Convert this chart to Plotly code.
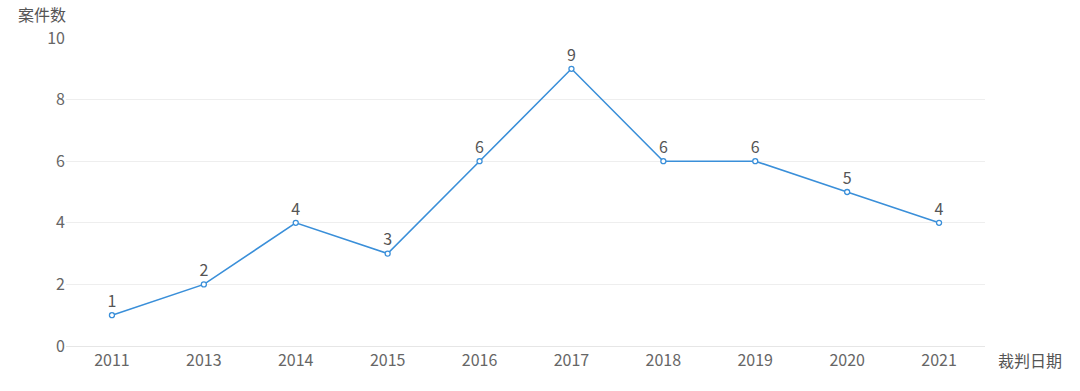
import plotly.graph_objects as go

years = ["2011", "2013", "2014", "2015", "2016", "2017", "2018", "2019", "2020", "2021"]
cases = [1, 2, 4, 3, 6, 9, 6, 6, 5, 4]
y_ticks = [0, 2, 4, 6, 8, 10]

FONT = "Noto Sans CJK SC, Microsoft YaHei, sans-serif"

fig = go.Figure()
fig.add_trace(go.Scatter(
    x=years, y=cases, mode="lines+markers+text",
    text=[str(v) for v in cases], textposition="top center",
    textfont=dict(size=16, color="#555555", family=FONT),
    line=dict(color="#3a8fd9", width=1.6),
    marker=dict(size=5, color="white", line=dict(color="#3a8fd9", width=1.3)),
    cliponaxis=False, hoverinfo="x+y",
))

fig.update_layout(
    width=1080, height=391,
    margin=dict(l=66, r=95, t=38, b=45, autoexpand=False),
    paper_bgcolor="white", plot_bgcolor="white",
    showlegend=False,
    font=dict(family=FONT, size=16, color="#666666"),
    xaxis=dict(
        type="category", range=[-0.5, len(years) - 0.5],
        showgrid=False, showline=True, linecolor="#e6e6e6", linewidth=1,
        ticks="", tickfont=dict(size=16, color="#666666"), zeroline=False, automargin=False,
    ),
    yaxis=dict(
        range=[0, 10], tickvals=y_ticks, showgrid=True, gridcolor="#eeeeee", gridwidth=1,
        zeroline=False, showline=False, ticks="", tickfont=dict(size=16, color="#666666"),
        ticksuffix=" ", automargin=False,
    ),
    annotations=[
        dict(text="案件数", xref="paper", yref="paper", x=0, y=1, xanchor="right", yanchor="bottom",
             xshift=2, yshift=10, showarrow=False, font=dict(size=16, color="#555555", family=FONT)),
        dict(text="裁判日期", xref="paper", yref="paper", x=1, y=0, xanchor="left", yanchor="top",
             xshift=11, yshift=0, showarrow=False, font=dict(size=16, color="#555555", family=FONT)),
    ],
)

fig.write_html("out.html", config={"displayModeBar": False},
               post_script="document.body.style.margin='0';")
